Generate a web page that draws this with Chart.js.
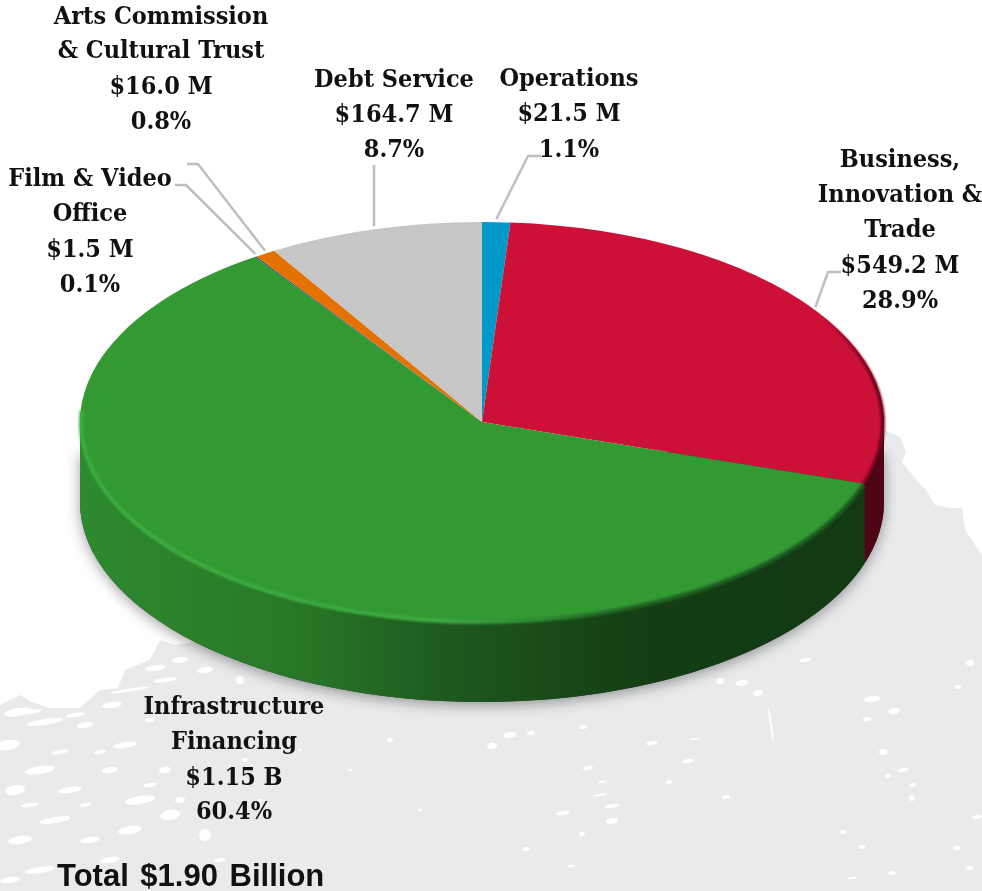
<!DOCTYPE html>
<html>
<head>
<meta charset="utf-8">
<style>html,body{margin:0;padding:0;background:#fff;overflow:hidden}canvas{display:block}</style>
<script src="https://cdn.jsdelivr.net/npm/chart.js@4"></script>
</head>
<body>
<canvas id="c" width="982" height="891"></canvas>
<script>
// ---- data ----
const categories = ['Operations','Business, Innovation & Trade','Infrastructure Financing','Film & Video Office','Arts Commission & Cultural Trust','Debt Service'];
const amounts = [21.5, 549.2, 1150, 1.5, 16.0, 164.7];
const sliceColors = ['#0099C8','#CC1038','#339933','#14607A','#E57200','#C6C6C6'];
const labelLines = [
  ['Operations','$21.5 M','1.1%'],
  ['Business,','Innovation &','Trade','$549.2 M','28.9%'],
  ['Infrastructure','Financing','$1.15 B','60.4%'],
  ['Film & Video','Office','$1.5 M','0.1%'],
  ['Arts Commission','& Cultural Trust','$16.0 M','0.8%'],
  ['Debt Service','$164.7 M','8.7%']
];
const totalText = 'Total $1.90 Billion';

// ---- layout (not data) ----
const PIE = {cx:482, cy:422, rx:402, ry:200, depth:80};
const labelCenterX = [569, 900, 234, 90, 161, 394];
const labelBaselines = [
  [86,121,157],[167,202,237,273,308],[714,749,785,819],[186,221,257,292],[24,58,94,129],[87,122,157]
];
const leaderElbows = [
  [[541,156],[528,156]], [[841,272],[828,272]], null,
  [[175,185],[186,185]], [[187,164],[198,164]], [[374,165]]
];
const wallShade = [[80,.90],[300,.78],[430,.60],[500,.53],[650,.40],[884,.38]];
const texturePoly = [[885,430],[900,437],[906,452],[902,462],[918,482],[926,490],[935,505],[950,508],[962,508],[965,530],[975,545],[982,555],[982,891],[0,891],[0,705],[20,695],[32,702],[50,708],[80,708],[100,690],[118,688],[125,670],[150,660],[160,640],[175,645],[480,600]];
const textureFlecks = [[510,735,7,3],[492,746,5,3],[531,733,4,2],[583,727,4,2],[652,743,6,2],[695,739,5,1],[688,761,6,2],[758,693,5,3],[742,683,6,3],[720,681,4,3],[805,660,6,2],[872,699,8,3],[894,711,6,3],[867,719,4,2],[883,752,4,3],[903,770,6,2],[913,785,3,2],[912,798,3,3],[888,776,3,2],[612,806,8,2],[600,795,7,1],[563,813,7,2],[612,821,6,3],[588,768,5,2],[602,782,4,1],[726,797,4,2],[669,782,3,2],[526,849,4,2],[571,866,4,1],[582,834,3,2],[970,663,4,3],[958,687,3,2],[977,817,5,2],[957,848,4,2],[970,868,4,2],[892,873,4,2],[852,878,5,1],[862,847,3,2],[843,832,3,2],[771,725,1,18],
[18,712,14,4],[45,722,18,3],[8,745,12,5],[85,725,8,3],[125,745,12,3],[40,770,15,4],[15,790,10,5],[70,790,12,3],[110,770,8,3],[140,800,15,4],[55,820,16,3],[20,840,12,4],[90,840,10,3],[130,830,12,4],[170,815,10,5],[205,835,6,6],[165,770,6,3],[180,800,5,3],[220,860,6,2],[40,870,15,3],[10,880,10,3],[110,860,10,3],[150,720,5,2],[155,668,10,3],[180,660,8,3],[130,690,20,1.5],[165,680,12,2],[205,670,8,3],[240,680,4,4],[30,712,12,2],[112,705,10,3],[200,745,4,2],[245,760,3,2],[260,800,3,1],[300,750,2,1],[350,770,3,1],[390,740,3,2],[420,810,3,1],[75,715,10,2],[60,752,9,2],[100,752,6,2],[30,805,9,2],[150,785,7,2],[85,805,6,2]];

function shade(hex,m){
  const n=parseInt(hex.slice(1),16);
  const f=v=>Math.round(v*m);
  return `rgb(${f(n>>16&255)},${f(n>>8&255)},${f(n&255)})`;
}
function rimPoint(a){return [PIE.cx+PIE.rx*Math.cos(a), PIE.cy+PIE.ry*Math.sin(a)];}

const pie3d = {
  id:'pie3d',
  beforeDraw(chart){
    const c=chart.ctx;
    c.save();
    c.fillStyle='#fff';c.fillRect(0,0,982,891);
    c.fillStyle='#E9EAEC';
    c.beginPath();
    texturePoly.forEach((p,i)=>i?c.lineTo(p[0],p[1]):c.moveTo(p[0],p[1]));
    c.closePath();c.fill();
    c.fillStyle='#fff';
    textureFlecks.forEach(f=>{c.beginPath();c.ellipse(f[0],f[1],f[2],f[3],-0.15,0,Math.PI*2);c.fill();});
    c.restore();
  },
  beforeDatasetsDraw(chart){
    const c=chart.ctx, {cx,cy,rx,ry,depth}=PIE;
    const arcs=chart.getDatasetMeta(0).data;
    // cast shadow of the lower body, fading out naturally at its flat top
    c.save();
    c.shadowColor='rgba(0,0,0,.38)';c.shadowBlur=14;c.shadowOffsetY=3;
    c.fillStyle='#333';
    c.beginPath();
    c.ellipse(cx,cy+depth,rx,ry,0,0,Math.PI);
    c.lineTo(cx-rx,cy+30);
    c.lineTo(cx+rx,cy+30);
    c.closePath();c.fill();
    c.restore();
    // side walls
    arcs.forEach((arc,i)=>{
      const a0=Math.max(arc.startAngle,0), a1=Math.min(arc.endAngle,Math.PI);
      if(a1<=a0) return;
      const g=c.createLinearGradient(cx-rx,0,cx+rx,0);
      wallShade.forEach(s=>g.addColorStop((s[0]-(cx-rx))/(2*rx),shade(sliceColors[i],s[1])));
      c.fillStyle=g;
      c.beginPath();
      c.ellipse(cx,cy,rx,ry,0,a0,a1);
      c.ellipse(cx,cy+depth,rx,ry,0,a1,a0,true);
      c.closePath();c.fill();
    });
    // top face drawn by Chart.js, flattened
    c.save();
    c.translate(cx,cy);c.scale(1,ry/rx);
    const a=arcs[0];
    c.translate(-a.x,-a.y);
  },
  afterDatasetsDraw(chart){
    const c=chart.ctx, {cx,cy,rx,ry}=PIE;
    c.restore();
    const arcs=chart.getDatasetMeta(0).data;
    // soft bevel along the rim
    c.save();
    c.filter='blur(1.2px)';
    c.lineWidth=4;
    const a1=arcs[1], a2=arcs[2];
    let g=c.createLinearGradient(cx-rx,0,cx+rx,0);
    g.addColorStop(0,'#3BAE40');g.addColorStop(.45,'#3EAB42');g.addColorStop(.56,'#2F8A33');g.addColorStop(.68,'#1F6324');g.addColorStop(1,'#1A5A20');
    c.strokeStyle=g;
    c.beginPath();c.ellipse(cx,cy+1,rx-1,ry-1,0,Math.max(a2.startAngle,0),Math.PI*1.02);c.stroke();
    g=c.createLinearGradient(cx+340,0,cx+rx,0);
    g.addColorStop(0,'rgba(90,0,24,0)');g.addColorStop(1,'rgba(90,0,24,.9)');
    c.strokeStyle=g;
    c.beginPath();c.ellipse(cx,cy+1,rx-1,ry-1,0,a1.startAngle,a1.endAngle);c.stroke();
    c.restore();
  },
  afterDraw(chart){
    const c=chart.ctx;
    const arcs=chart.getDatasetMeta(0).data;
    c.save();
    // leader lines
    c.strokeStyle='#BFBFBF';c.lineWidth=2.5;c.lineJoin='round';
    leaderElbows.forEach((el,i)=>{
      if(!el) return;
      const mid=(arcs[i].startAngle+arcs[i].endAngle)/2;
      const e=rimPoint(mid);
      c.beginPath();
      el.forEach((p,k)=>k?c.lineTo(p[0],p[1]):c.moveTo(p[0],p[1]));
      c.lineTo(e[0],e[1]-3);
      c.stroke();
    });
    // labels
    c.fillStyle='#111';c.textAlign='center';c.textBaseline='alphabetic';
    c.font='bold 25px "DejaVu Serif Condensed","DejaVu Serif",serif';
    labelLines.forEach((lines,i)=>{
      lines.forEach((t,k)=>c.fillText(t,labelCenterX[i],labelBaselines[i][k]));
    });
    c.fillStyle='#111';c.textAlign='left';
    c.font='bold 31px "Liberation Sans",Arial,sans-serif';
    c.wordSpacing='3px';
    c.fillText(totalText,57,886);
    c.restore();
  }
};

new Chart(document.getElementById('c'),{
  type:'pie',
  data:{labels:categories,datasets:[{data:amounts,backgroundColor:sliceColors,borderWidth:0,clip:false}]},
  options:{
    responsive:false,animation:false,radius:PIE.rx,
    layout:{padding:0},
    plugins:{legend:{display:false},tooltip:{enabled:false},title:{display:false}}
  },
  plugins:[pie3d]
});
</script>
</body>
</html>
